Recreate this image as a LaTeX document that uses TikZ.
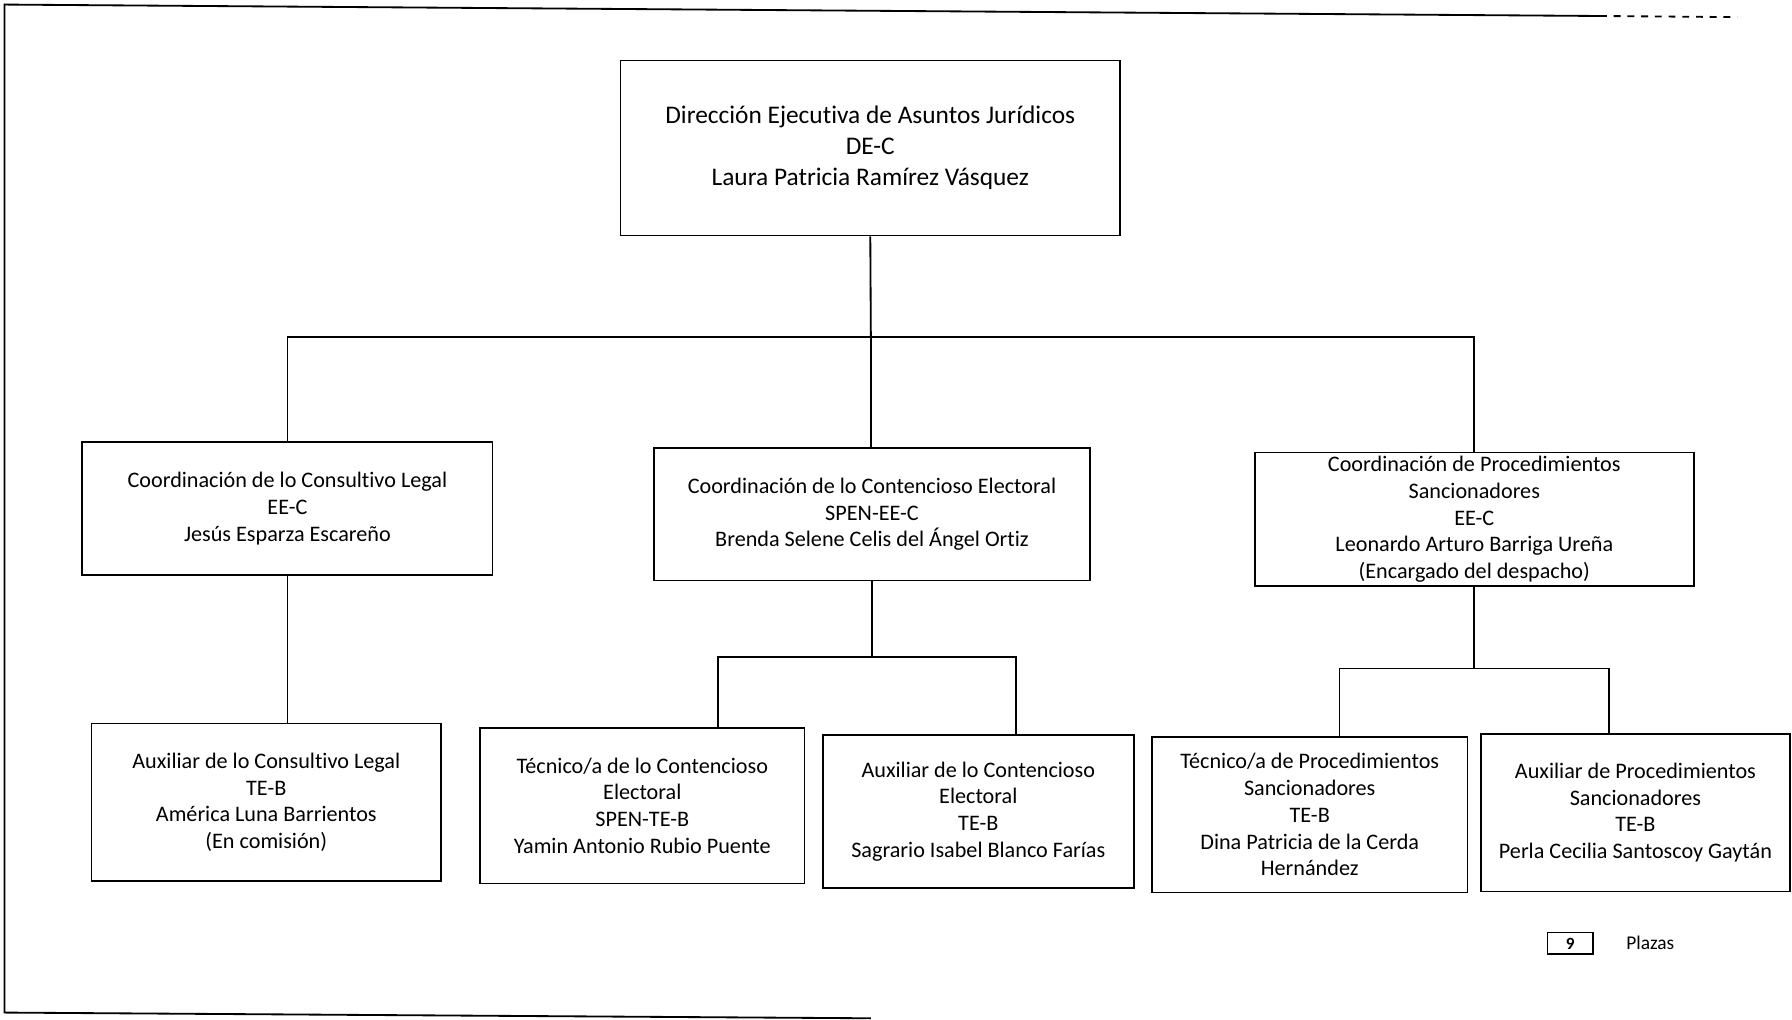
\documentclass[tikz,border=0pt]{standalone}
\usepackage{fontspec}
\setmainfont{Carlito}[Ligatures=NoCommon]
\begin{document}
\begin{tikzpicture}[x=0.5pt,y=-0.5pt,
  box/.style={draw, line width=0.8pt, align=center, inner sep=0pt, font=\fontsize{9.7}{11.7}\selectfont},
  topbox/.style={box, font=\fontsize{11.1}{13.5}\selectfont},
  conn/.style={line width=0.8pt},
  frame/.style={line width=0.8pt}]
\useasboundingbox (0,0) rectangle (1568,892);
% scan frame
\draw[frame] (1400,14) -- (4,4) -- (4,886) -- (762,891);
\draw[frame, dashed] (1400,14) -- (1520,15);
% nodes
\node[topbox, minimum width=218.5pt, minimum height=76.5pt] (top) at (761.5,129.5)
  {Dirección Ejecutiva de Asuntos Jurídicos\\DE-C\\Laura Patricia Ramírez Vásquez};
\node[box, minimum width=179.5pt, minimum height=58pt] (L1) at (251.5,445)
  {Coordinación de lo Consultivo Legal\\EE-C\\Jesús Esparza Escareño};
\node[box, minimum width=191pt, minimum height=58pt] (M1) at (763,450)
  {Coordinación de lo Contencioso Electoral\\SPEN-EE-C\\Brenda Selene Celis del Ángel Ortiz};
\node[box, minimum width=192pt, minimum height=58.5pt] (R1) at (1290,454.5)
  {Coordinación de Procedimientos\\Sancionadores\\EE-C\\Leonardo Arturo Barriga Ureña\\(Encargado del despacho)};
\node[box, minimum width=153pt, minimum height=69pt] (L2) at (233,702)
  {Auxiliar de lo Consultivo Legal\\TE-B\\América Luna Barrientos\\(En comisión)};
\node[box, minimum width=142pt, minimum height=68pt] (M2a) at (562,705)
  {Técnico/a de lo Contencioso\\Electoral\\SPEN-TE-B\\Yamin Antonio Rubio Puente};
\node[box, minimum width=136pt, minimum height=67pt] (M2b) at (856,710)
  {Auxiliar de lo Contencioso\\Electoral\\TE-B\\Sagrario Isabel Blanco Farías};
\node[box, minimum width=138pt, minimum height=68pt] (R2a) at (1146,713)
  {Técnico/a de Procedimientos\\Sancionadores\\TE-B\\Dina Patricia de la Cerda\\Hernández};
\node[box, minimum width=135pt, minimum height=69pt] (R2b) at (1431,711)
  {Auxiliar de Procedimientos\\Sancionadores\\TE-B\\Perla Cecilia Santoscoy Gaytán};
% legend
\node[draw, line width=0.8pt, minimum width=20pt, minimum height=9.5pt, inner sep=0pt,
  font=\fontsize{7.5}{9}\selectfont\bfseries] (n9) at (1374,825.5) {9};
\node[font=\fontsize{8.5}{10}\selectfont, inner sep=0pt] (plz) at (1444,825) {Plazas};
% connectors
\coordinate (bus) at (762,295);
\draw[conn] (top.south) -- (bus);
\draw[conn] (L1.north) |- (bus) -| (R1.north);
\draw[conn] (bus) -- (bus |- M1.north);
\draw[conn] (L1.south) -- (L1.south |- L2.north);
\coordinate (mbus) at (763,575);
\coordinate (ma) at (628,575);
\coordinate (mb) at (889,575);
\draw[conn] (M1.south) -- (mbus);
\draw[conn] (ma |- M2a.north) -- (ma) -- (mb) -- (mb |- M2b.north);
\coordinate (rbus) at (1290,585);
\coordinate (ra) at (1172,585);
\coordinate (rb) at (1408,585);
\draw[conn] (R1.south) -- (rbus);
\draw[conn] (ra |- R2a.north) -- (ra) -- (rb) -- (rb |- R2b.north);
\end{tikzpicture}
\end{document}
